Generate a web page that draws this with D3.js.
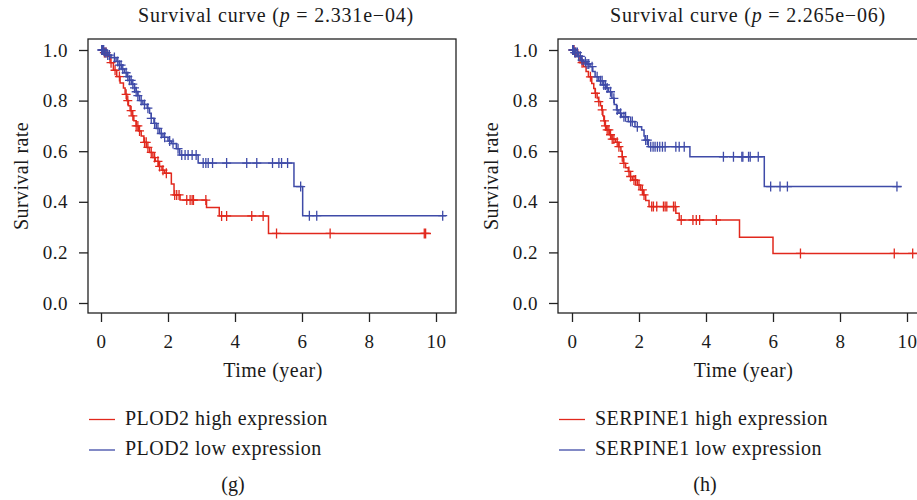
<!DOCTYPE html>
<html><head><meta charset="utf-8">
<script src="https://cdn.jsdelivr.net/npm/d3@7"></script>
<style>body{margin:0;background:#fff}</style></head>
<body>
<svg id="c" width="917" height="500"></svg>
<script>
// ---------- data ----------
const xTicks = [0, 2, 4, 6, 8, 10];
const yTicks = [0, 0.2, 0.4, 0.6, 0.8, 1.0];
const pValues = ["2.331e\u221204", "2.265e\u221206"];
const genes = ["PLOD2", "SERPINE1"];
const panelTags = ["(g)", "(h)"];

// PLOD2 high expression (red)
const plod2HighTime = [0,0.1,0.2,0.27,0.37,0.47,0.57,0.67,0.72,0.77,0.82,0.87,0.93,0.98,1.05,1.12,1.2,1.28,1.36,1.45,1.55,1.62,1.72,1.82,1.9,2.1,2.18,2.36,3.15,3.53,5.0];
const plod2HighSurv = [1,0.99,0.975,0.95,0.92,0.895,0.87,0.85,0.825,0.8,0.78,0.76,0.74,0.72,0.7,0.68,0.66,0.635,0.615,0.595,0.575,0.56,0.54,0.525,0.513,0.47,0.427,0.407,0.377,0.344,0.275];
const plod2HighEnd = 9.85;
const plod2HighCens = [0.05,0.1,0.15,0.3,0.42,0.55,0.75,0.8,0.9,0.95,1.05,1.1,1.15,1.3,1.35,1.4,1.5,1.6,1.7,1.75,1.85,1.95,2.2,2.26,2.33,2.56,2.66,2.72,2.76,3.13,3.6,3.75,4.5,4.84,5.24,6.84,9.65,9.69];

// PLOD2 low expression (blue)
const plod2LowTime = [0,0.1,0.2,0.3,0.45,0.55,0.62,0.7,0.78,0.85,0.92,1.0,1.05,1.1,1.15,1.25,1.38,1.45,1.5,1.58,1.65,1.75,1.85,2.0,2.1,2.25,2.35,2.9,5.76,6.02];
const plod2LowSurv = [1,0.99,0.98,0.97,0.955,0.94,0.925,0.91,0.895,0.88,0.865,0.85,0.835,0.82,0.8,0.785,0.77,0.75,0.73,0.71,0.69,0.67,0.655,0.64,0.63,0.61,0.585,0.553,0.46,0.345];
const plod2LowEnd = 10.3;
const plod2LowCens = [0.02,0.05,0.08,0.12,0.15,0.2,0.25,0.4,0.5,0.55,0.6,0.65,0.75,0.8,0.85,0.9,0.95,1.0,1.05,1.1,1.2,1.3,1.4,1.5,1.6,1.7,1.8,1.9,2.05,2.15,2.3,2.41,2.51,2.6,2.72,2.84,3.05,3.13,3.2,3.33,3.75,4.35,4.65,5.12,5.31,5.39,5.57,5.96,6.22,6.44,10.2];

// SERPINE1 high expression (red)
const serpHighTime = [0,0.08,0.15,0.24,0.34,0.42,0.49,0.59,0.65,0.69,0.75,0.79,0.85,0.89,0.92,0.95,0.99,1.03,1.12,1.19,1.3,1.4,1.46,1.5,1.53,1.6,1.68,1.74,1.8,1.95,2.05,2.13,2.2,2.3,3.1,3.2,5.0,6.0];
const serpHighSurv = [1,0.99,0.975,0.95,0.934,0.915,0.894,0.868,0.848,0.829,0.81,0.796,0.78,0.763,0.74,0.72,0.7,0.684,0.665,0.648,0.635,0.618,0.6,0.578,0.552,0.535,0.52,0.5,0.486,0.466,0.447,0.427,0.405,0.381,0.355,0.328,0.26,0.196];
const serpHighEnd = 10.5;
const serpHighCens = [0.03,0.06,0.1,0.2,0.3,0.55,0.7,0.8,0.9,0.97,1.0,1.05,1.1,1.15,1.2,1.25,1.35,1.4,1.5,1.55,1.7,1.75,1.85,1.9,2.0,2.1,2.15,2.38,2.43,2.53,2.73,2.78,2.83,3.03,3.08,3.26,3.61,3.71,3.81,4.31,6.82,9.62,10.17];

// SERPINE1 low expression (blue)
const serpLowTime = [0,0.08,0.18,0.28,0.34,0.45,0.54,0.62,0.69,0.8,0.93,1.02,1.09,1.19,1.26,1.33,1.4,1.48,1.68,1.88,2.08,2.15,2.18,2.28,3.52,5.74];
const serpLowSurv = [1,0.99,0.975,0.96,0.954,0.945,0.934,0.915,0.894,0.878,0.862,0.85,0.835,0.809,0.785,0.763,0.75,0.736,0.717,0.697,0.684,0.66,0.644,0.618,0.578,0.46];
const serpLowEnd = 9.84;
const serpLowCens = [0.02,0.05,0.08,0.12,0.16,0.2,0.25,0.3,0.4,0.45,0.5,0.6,0.75,0.85,0.9,0.95,1.0,1.05,1.15,1.25,1.35,1.45,1.55,1.6,1.75,1.8,1.95,2.2,2.25,2.35,2.42,2.48,2.55,2.62,2.7,2.78,3.1,3.2,3.35,4.52,4.82,5.07,5.1,5.27,5.32,5.56,5.93,6.21,6.43,9.7];

const RED = "#e1281d", BLUE = "#3f4ba8";
const FONT = "'Liberation Serif','Times New Roman',serif";
const INK = "#1a1a1a";

// ---------- layout ----------
const panels = [
  {gene: genes[0], p: pValues[0], tag: panelTags[0], left: 88, right: 456, x0: 101, x10: 436, titleX: 276, tagX: 233, xTitleX: 273,
   series: [
     {time: plod2HighTime, surv: plod2HighSurv, end: plod2HighEnd, cens: plod2HighCens, color: RED},
     {time: plod2LowTime, surv: plod2LowSurv, end: plod2LowEnd, cens: plod2LowCens, color: BLUE}]},
  {gene: genes[1], p: pValues[1], tag: panelTags[1], left: 558, right: 927, x0: 572, x10: 907, titleX: 748, tagX: 705, xTitleX: 743.5,
   series: [
     {time: serpHighTime, surv: serpHighSurv, end: serpHighEnd, cens: serpHighCens, color: RED},
     {time: serpLowTime, surv: serpLowSurv, end: serpLowEnd, cens: serpLowCens, color: BLUE}]}
];
const TOP = 39, BOTTOM = 313;
const svg = d3.select("#c");

panels.forEach(P => {
  const x = d3.scaleLinear().domain([0, 10]).range([P.x0, P.x10]);
  const y = d3.scaleLinear().domain([0, 1]).range([303, 50]);
  const g = svg.append("g");

  // curves
  P.series.forEach(s => {
    const pts = s.time.map((t, i) => [t, s.surv[i]]);
    pts.push([s.end, s.surv[s.surv.length - 1]]);
    g.append("path")
      .attr("d", d3.line().x(d => x(d[0])).y(d => y(d[1])).curve(d3.curveStepAfter)(pts))
      .attr("fill", "none").attr("stroke", s.color).attr("stroke-width", 1.5);
    const survAt = t => { let v = 1; s.time.forEach((tt, i) => { if (tt <= t) v = s.surv[i]; }); return v; };
    g.append("g").selectAll("path").data(s.cens).join("path")
      .attr("d", t => { const cx = x(t), cy = y(survAt(t)); return `M${cx-4.5},${cy}H${cx+4.5}M${cx},${cy-5}V${cy+5}`; })
      .attr("stroke", s.color).attr("stroke-width", 1.3).attr("fill", "none");
  });

  // box
  g.append("rect").attr("x", P.left).attr("y", TOP).attr("width", P.right - P.left).attr("height", BOTTOM - TOP)
    .attr("fill", "none").attr("stroke", "#222").attr("stroke-width", 1.3);

  // axes
  const ax = g.append("g").attr("transform", `translate(0,${BOTTOM})`)
    .call(d3.axisBottom(x).tickValues(xTicks).tickSize(9).tickPadding(13).tickFormat(d3.format("d")));
  const ay = g.append("g").attr("transform", `translate(${P.left},0)`)
    .call(d3.axisLeft(y).tickValues(yTicks).tickSize(9).tickPadding(11).tickFormat(d3.format(".1f")));
  [ax, ay].forEach(a => {
    a.select(".domain").remove();
    a.selectAll("line").attr("stroke", "#222").attr("stroke-width", 1.3);
    a.selectAll("text").attr("font-family", FONT).attr("font-size", 19).attr("fill", INK)
      .attr("letter-spacing", "0.5px");
  });

  // titles
  const t = g.append("text").attr("x", P.titleX).attr("y", 22).attr("text-anchor", "middle")
    .attr("font-family", FONT).attr("font-size", 20).attr("fill", INK).attr("letter-spacing", "0.8px");
  t.append("tspan").text("Survival curve (");
  t.append("tspan").attr("font-style", "italic").text("p");
  t.append("tspan").text(" = " + P.p + ")");

  g.append("text").attr("x", P.xTitleX).attr("y", 377)
    .attr("text-anchor", "middle").attr("font-family", FONT).attr("font-size", 20).attr("fill", INK)
    .attr("letter-spacing", "0.5px").text("Time (year)");
  g.append("text").attr("transform", `translate(${P.left - 60},176) rotate(-90)`)
    .attr("text-anchor", "middle").attr("font-family", FONT).attr("font-size", 20).attr("fill", INK)
    .attr("letter-spacing", "0.4px").text("Survival rate");

  // legend
  const lx = P.left + 1;
  P.series.forEach((s, i) => {
    const ly = 419.5 + i * 30.5;
    g.append("line").attr("x1", lx).attr("x2", lx + 26).attr("y1", ly).attr("y2", ly)
      .attr("stroke", s.color).attr("stroke-width", 1.3);
    g.append("text").attr("x", lx + 36).attr("y", ly + 5).attr("font-family", FONT).attr("font-size", 20)
      .attr("fill", INK).attr("letter-spacing", "0.45px").text(`${P.gene} ${i === 0 ? "high" : "low"} expression`);
  });

  g.append("text").attr("x", P.tagX).attr("y", 491).attr("text-anchor", "middle")
    .attr("font-family", FONT).attr("font-size", 20).attr("fill", INK).text(P.tag);
});
</script>
</body></html>
